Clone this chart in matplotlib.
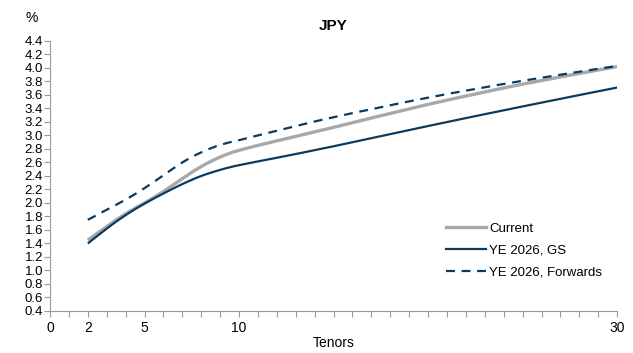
import numpy as np
import matplotlib.pyplot as plt
from matplotlib.path import Path
from matplotlib.patches import PathPatch
from matplotlib.lines import Line2D

plt.rcParams['font.family'] = ['Liberation Sans', 'DejaVu Sans']

# JPY curve by tenor (years), yields in %
tenors = [2, 3, 4, 5, 6, 7, 8, 9, 10, 12, 15, 20, 25, 30]
current = [1.45, 1.65, 1.84, 2.00, 2.17, 2.36, 2.54, 2.68, 2.78, 2.92, 3.12, 3.46, 3.76, 4.02]
ye2026_gs = [1.40, 1.62, 1.82, 1.99, 2.14, 2.28, 2.40, 2.49, 2.56, 2.67, 2.84, 3.14, 3.43, 3.71]
ye2026_fwd = [1.75, 1.90, 2.05, 2.22, 2.41, 2.60, 2.75, 2.86, 2.93, 3.07, 3.27, 3.56, 3.81, 4.03]

xtick_labels = {0: '0', 2: '2', 5: '5', 10: '10', 30: '30'}
yticks = np.round(np.arange(0.4, 4.41, 0.2), 1)

navy = '#0c3a5e'
grey = '#a8a8a8'
axis_grey = '#9a9a9a'


def smooth_path(x, y, tension=1 / 6):
    # bezier segments through every point (catmull-rom style control points)
    pts = np.column_stack([x, y]).astype(float)
    verts = [pts[0]]
    codes = [Path.MOVETO]
    n = len(pts)
    for i in range(n - 1):
        p0 = pts[max(i - 1, 0)]
        p1 = pts[i]
        p2 = pts[i + 1]
        p3 = pts[min(i + 2, n - 1)]
        c1 = p1 + (p2 - p0) * tension
        c2 = p2 - (p3 - p1) * tension
        verts += [c1, c2, p2]
        codes += [Path.CURVE4] * 3
    return Path(verts, codes)


def smooth_line(ax, x, y, **kw):
    ax.add_patch(PathPatch(smooth_path(x, y), fill=False, **kw))
    return Line2D([], [], color=kw['edgecolor'], lw=kw['lw'], ls=kw.get('ls', '-'))


fig = plt.figure(figsize=(6.33, 3.53), dpi=100)
ax = fig.add_axes([0.079, 0.119, 0.896, 0.765])

h1 = smooth_line(ax, tenors, current, edgecolor=grey, lw=2.4)
h2 = smooth_line(ax, tenors, ye2026_gs, edgecolor=navy, lw=1.6)
h3 = smooth_line(ax, tenors, ye2026_fwd, edgecolor=navy, lw=1.6, ls=(0, (4, 3)))

ax.set_xlim(0, 30)
ax.set_ylim(0.4, 4.4)
ax.set_xticks(range(0, 31))
ax.set_xticklabels([xtick_labels.get(t, '') for t in range(0, 31)])
ax.set_yticks(yticks)
ax.set_yticklabels(['%.1f' % v for v in yticks])

for side in ['top', 'right']:
    ax.spines[side].set_visible(False)
for side in ['left', 'bottom']:
    ax.spines[side].set_color(axis_grey)
    ax.spines[side].set_linewidth(0.8)

ax.tick_params(axis='both', colors=axis_grey, labelcolor='black', labelsize=9.5,
               length=4, width=0.8, direction='out')
ax.tick_params(axis='x', pad=3, labelsize=10)
ax.tick_params(axis='y', pad=1)

ax.set_title('JPY', fontsize=11, fontweight='bold', pad=8)
ax.set_xlabel('Tenors', fontsize=10, labelpad=1)
fig.text(0.05, 0.95, '%', fontsize=10, ha='center', va='center')

ax.legend([h1, h2, h3], ['Current', 'YE 2026, GS', 'YE 2026, Forwards'],
          loc='lower right', bbox_to_anchor=(0.995, 0.075), frameon=False, fontsize=9.5,
          handlelength=3.0, handletextpad=0.3, labelspacing=0.75)

fig.savefig('out.png', dpi=100)
